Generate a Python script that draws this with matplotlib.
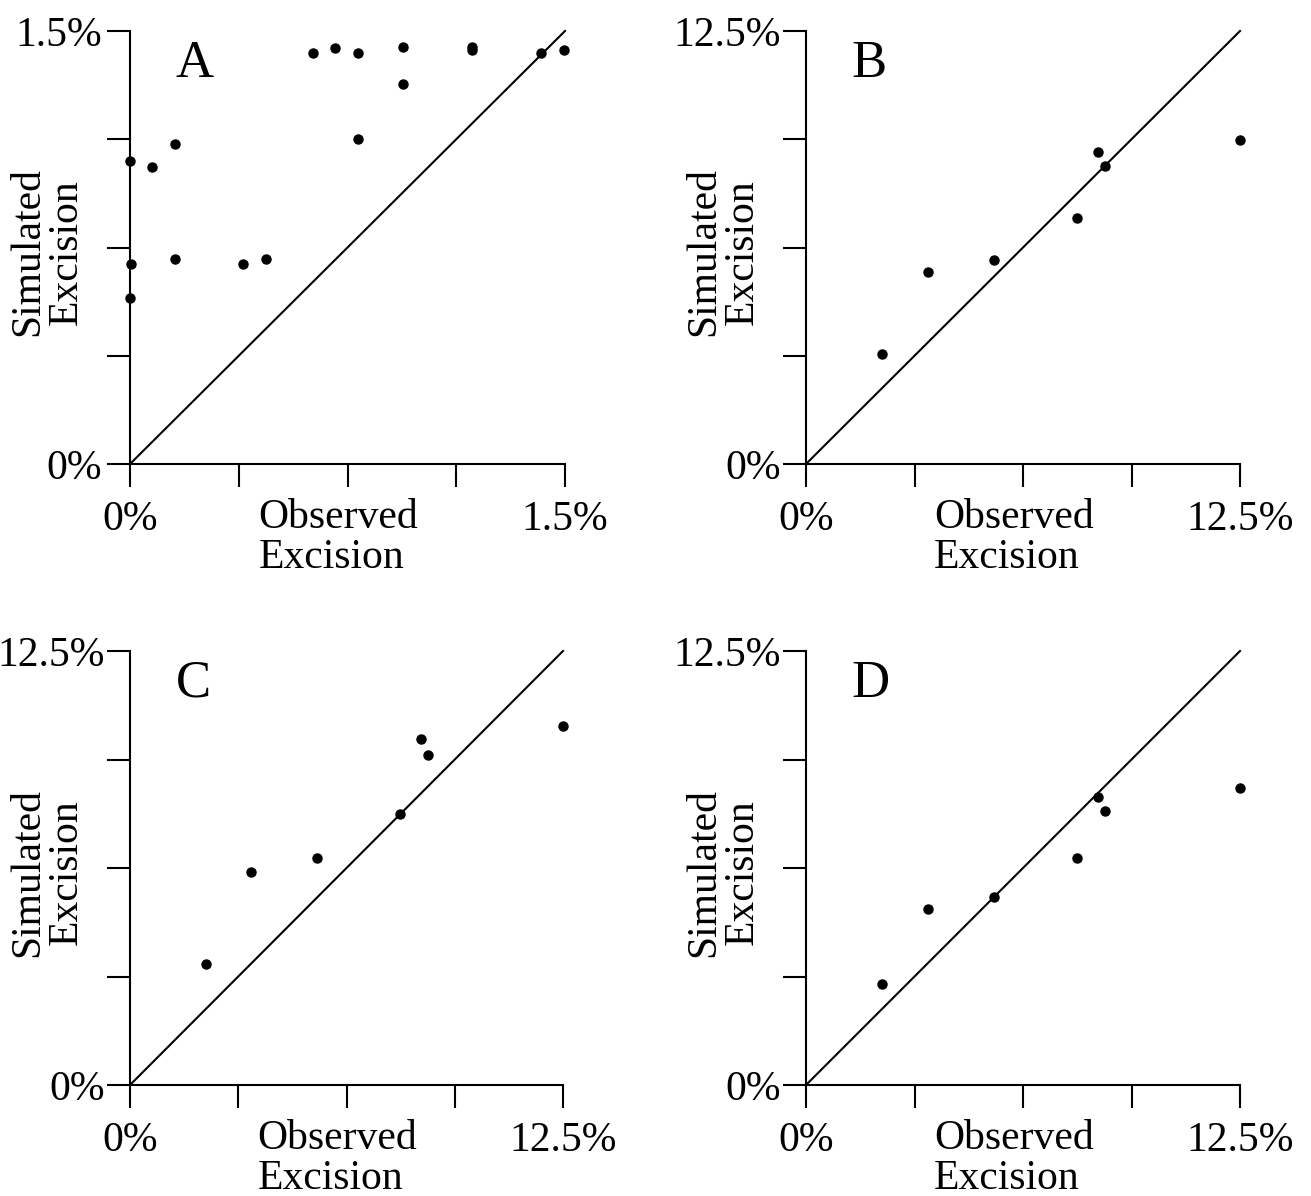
import matplotlib
matplotlib.use("Agg")
import matplotlib.pyplot as plt

plt.rcParams["font.family"] = ["Liberation Serif", "DejaVu Serif"]

# observed vs simulated excision (percent)
a_obs = [0.0, 0.076, 0.155, 0.003, 0.155, 0.390, 0.469, 0.0, 0.631, 0.707,
         0.786, 0.786, 0.941, 0.941, 1.179, 1.179, 1.417, 1.497]
a_sim = [1.050, 1.029, 1.109, 0.693, 0.710, 0.693, 0.710, 0.575, 1.424, 1.441,
         1.424, 1.126, 1.445, 1.316, 1.445, 1.434, 1.424, 1.434]

b_obs = [2.19, 3.51, 5.41, 7.81, 8.41, 8.61, 12.5]
b_sim = [3.18, 5.54, 5.89, 7.10, 9.01, 8.60, 9.35]

c_obs = [2.19, 3.49, 5.40, 7.79, 8.40, 8.60, 12.5]
c_sim = [3.49, 6.13, 6.54, 7.81, 9.97, 9.50, 10.34]

d_obs = [2.19, 3.51, 5.41, 7.81, 8.41, 8.61, 12.5]
d_sim = [2.91, 5.07, 5.41, 6.54, 8.29, 7.89, 8.55]

panels = [
    ("A", a_obs, a_sim, 1.5, "1.5%"),
    ("B", b_obs, b_sim, 12.5, "12.5%"),
    ("C", c_obs, c_sim, 12.5, "12.5%"),
    ("D", d_obs, d_sim, 12.5, "12.5%"),
]

W, H = 1311, 1196
fig = plt.figure(figsize=(W / 100, H / 100), dpi=100)

# axes boxes in pixels: left, top, right, bottom
boxes = [(130, 31, 565, 464), (806, 31, 1240, 464),
         (130, 651, 563, 1085), (806, 651, 1240, 1085)]

fs = 30
for (letter, obs, sim, vmax, toplab), (l, t, r, b) in zip(panels, boxes):
    ax = fig.add_axes([l / W, 1 - b / H, (r - l) / W, (b - t) / H])
    ax.plot([0, vmax], [0, vmax], color="black", lw=1.5, clip_on=False)
    ax.plot(obs, sim, "o", color="black", ms=6.5, clip_on=False)
    ax.set_xlim(0, vmax)
    ax.set_ylim(0, vmax)
    for s in ("top", "right"):
        ax.spines[s].set_visible(False)
    for s in ("left", "bottom"):
        ax.spines[s].set_linewidth(1.5)
    ticks = [vmax * i / 4 for i in range(5)]
    ax.set_xticks(ticks)
    ax.set_yticks(ticks)
    ax.set_xticklabels(["0%", "", "", "", toplab])
    ax.set_yticklabels(["0%", "", "", "", toplab])
    ax.tick_params(direction="out", length=16.5, width=1.5, labelsize=fs)
    ax.tick_params(axis="x", pad=10)
    ax.tick_params(axis="y", pad=4 if vmax < 5 else 1.5)
    ax.text(0.295, -0.08, "Observed\nExcision", transform=ax.transAxes,
            ha="left", va="top", fontsize=fs, linespacing=1.04,
            multialignment="left")
    ax.text(-0.19, 0.49, "Simulated\nExcision", transform=ax.transAxes,
            ha="center", va="center", rotation=90, fontsize=fs, linespacing=1.0)
    ax.text(0.105, 0.98, letter, transform=ax.transAxes,
            ha="left", va="top", fontsize=38)

fig.savefig("out.png", dpi=100)
